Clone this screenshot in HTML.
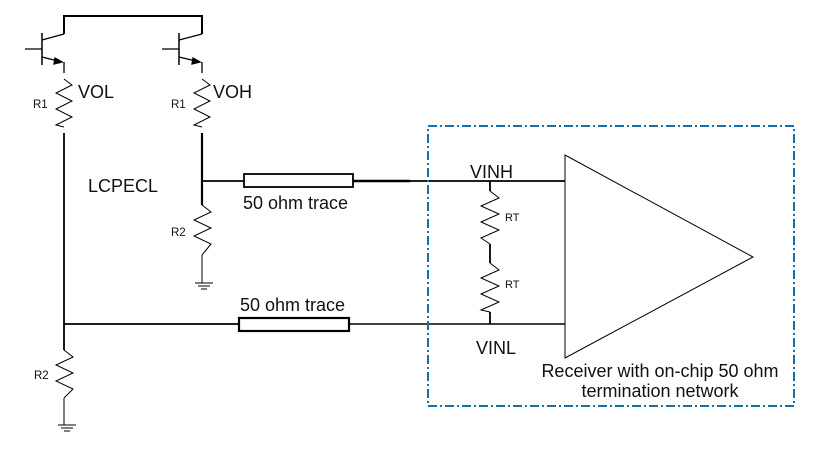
<!DOCTYPE html>
<html><head><style>body{margin:0;background:#fff}svg{display:block}text{font-family:"Liberation Sans",sans-serif;fill:#111}</style></head><body>
<svg width="824" height="450" viewBox="0 0 824 450" xmlns="http://www.w3.org/2000/svg">
<g stroke="#000" fill="none" stroke-width="1.3">
<polyline points="64,34 64,16 202,16 202,34" stroke-width="2"/>
<line x1="25" y1="49" x2="42" y2="49"/>
<line x1="42" y1="33" x2="42" y2="65" stroke-width="1.5"/>
<line x1="42" y1="40" x2="64" y2="34"/>
<line x1="42" y1="57" x2="62" y2="62"/>
<polygon points="62,62 55,58 54,64" fill="#000"/>
<line x1="64" y1="62" x2="64" y2="73"/>
<polyline points="64,79 72,85 56,93 72,101 56,109 72,117 56,125 64,127" stroke-width="1"/>
<line x1="64" y1="133" x2="64" y2="350" stroke-width="1.8"/>
<line x1="162" y1="49" x2="179" y2="49"/>
<line x1="179" y1="33" x2="179" y2="65" stroke-width="1.5"/>
<line x1="179" y1="40" x2="202" y2="34"/>
<line x1="179" y1="57" x2="200" y2="62"/>
<polygon points="200,62 193,58 192,64" fill="#000"/>
<line x1="202" y1="62" x2="202" y2="73"/>
<polyline points="202,79 210,85 194,93 210,101 194,109 210,117 194,125 202,127" stroke-width="1"/>
<line x1="202" y1="133" x2="202" y2="205" stroke-width="2.2"/>
<polyline points="202,205 211,212 194,220 211,228 194,236 211,244 202,255" stroke-width="1"/>
<line x1="202" y1="255" x2="202" y2="283" stroke-width="1"/>
<line x1="195" y1="283" x2="213" y2="283" stroke-width="1"/>
<line x1="198" y1="286" x2="210" y2="286" stroke-width="1"/>
<line x1="201" y1="289" x2="207" y2="289" stroke-width="1"/>
<line x1="202" y1="181" x2="243" y2="181" stroke-width="1.8"/>
<rect x="244" y="174" width="109" height="13" stroke-width="1.8"/>
<line x1="353" y1="181" x2="410" y2="181" stroke-width="2.5"/>
<line x1="410" y1="181" x2="565" y2="181" stroke-width="1.8"/>
<line x1="64" y1="324" x2="239" y2="324" stroke-width="1.8"/>
<rect x="239" y="318" width="110" height="13" stroke-width="2.2"/>
<line x1="349" y1="324" x2="565" y2="324" stroke-width="1.6"/>
<polyline points="64,350 73,357 56,365 73,373 56,381 73,389 64,398" stroke-width="1"/>
<line x1="64" y1="398" x2="64" y2="425" stroke-width="1"/>
<line x1="58" y1="425" x2="76" y2="425" stroke-width="1"/>
<line x1="61" y1="428" x2="73" y2="428" stroke-width="1"/>
<line x1="64" y1="431" x2="70" y2="431" stroke-width="1"/>
<line x1="490" y1="181" x2="490" y2="191" stroke-width="1.8"/>
<polyline points="490,191 499,198 481,206 499,214 481,222 499,230 481,238 490,244" stroke-width="1"/>
<line x1="490" y1="244" x2="490" y2="263" stroke-width="1.8"/>
<polyline points="490,263 499,270 481,278 499,286 481,294 499,302 481,310 490,312" stroke-width="1"/>
<line x1="490" y1="312" x2="490" y2="324" stroke-width="1.8"/>
<polygon points="565,155 565,358 753,257" stroke-width="1"/>
<rect x="428" y="126" width="366" height="280" stroke="#1a6fa8" stroke-width="2" stroke-dasharray="9,3,2,3"/>
</g>
<text x="78" y="98" font-size="18">VOL</text>
<text x="33" y="108" font-size="11.5">R1</text>
<text x="213" y="98" font-size="18">VOH</text>
<text x="171" y="108" font-size="11.5">R1</text>
<text x="88" y="192" font-size="18">LCPECL</text>
<text x="171" y="236" font-size="11.5">R2</text>
<text x="34" y="379" font-size="11.5">R2</text>
<text x="243" y="209" font-size="18">50 ohm trace</text>
<text x="240" y="311" font-size="18">50 ohm trace</text>
<text x="470" y="178" font-size="18">VINH</text>
<text x="476" y="354" font-size="18">VINL</text>
<text x="505" y="221" font-size="11">RT</text>
<text x="505" y="288" font-size="11">RT</text>
<text x="660" y="377" font-size="18" text-anchor="middle">Receiver with on-chip 50 ohm</text>
<text x="660" y="397" font-size="18" text-anchor="middle">termination network</text>
</svg>
</body></html>
